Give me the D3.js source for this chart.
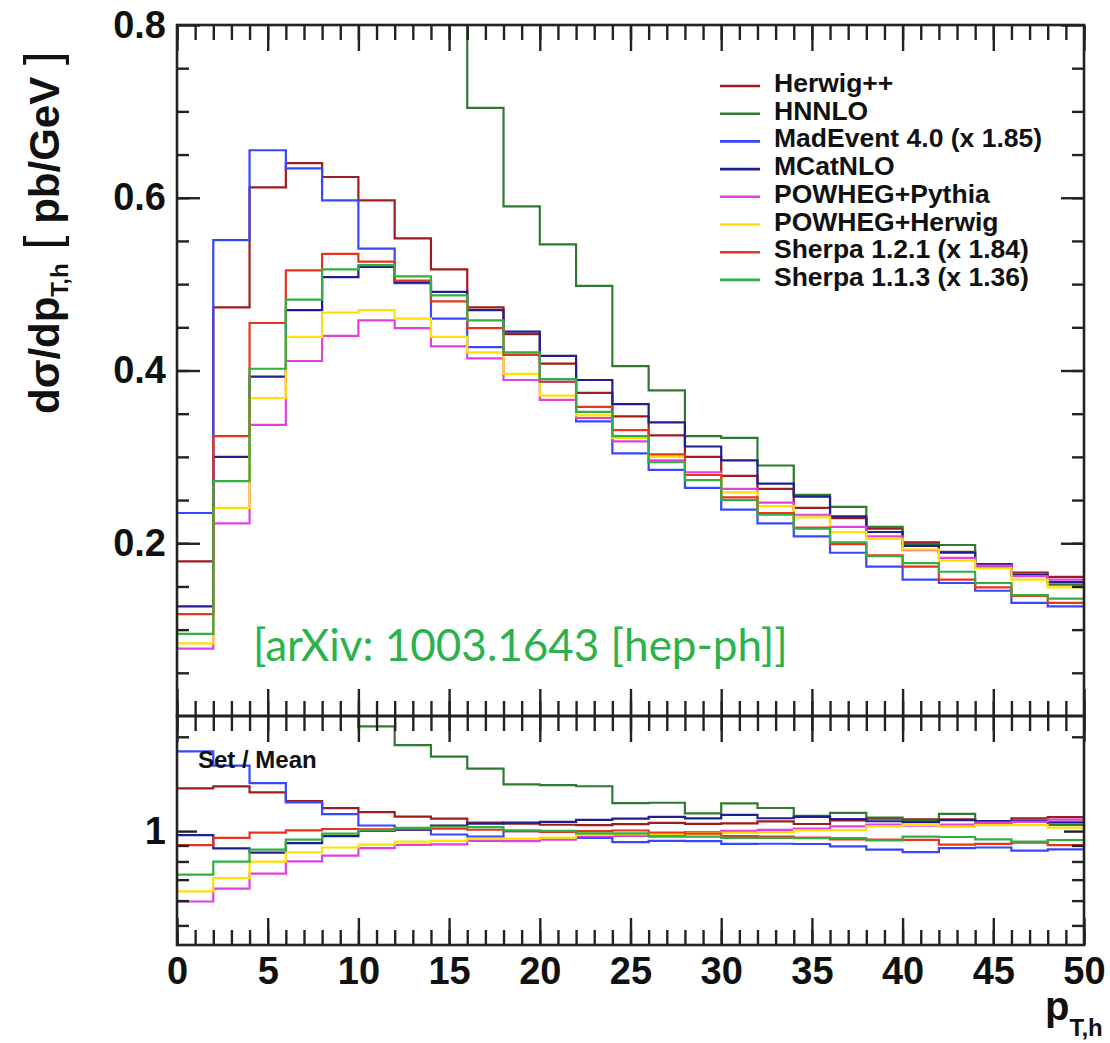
<!DOCTYPE html>
<html>
<head>
<meta charset="utf-8">
<script src="https://d3js.org/d3.v7.min.js"></script>
<style>
body { margin: 0; background: #fff; }
text { font-family: "Liberation Sans", Arial, Helvetica, sans-serif; }
</style>
</head>
<body>
<svg id="chart" width="1110" height="1043"></svg>
<script>
"use strict";

// pT,h bin edges [GeV]
var binEdges = [0, 2, 4, 6, 8, 10, 12, 14, 16, 18, 20, 22, 24, 26, 28, 30, 32, 34, 36, 38, 40, 42, 44, 46, 48, 50];

// dsigma/dpT per bin [pb/GeV]
var herwig = [0.179, 0.473, 0.612, 0.640, 0.624, 0.597, 0.553, 0.517, 0.473, 0.442, 0.408, 0.374, 0.347, 0.325, 0.300, 0.278, 0.263, 0.241, 0.229, 0.217, 0.201, 0.190, 0.176, 0.166, 0.161];
var hnnlo = [3.5, 2.6, 1.9, 1.55, 1.3, 1.121, 0.934, 0.816, 0.704, 0.590, 0.546, 0.498, 0.405, 0.377, 0.324, 0.322, 0.290, 0.256, 0.242, 0.219, 0.199, 0.198, 0.172, 0.163, 0.152];
var madevent = [0.235, 0.551, 0.655, 0.634, 0.597, 0.541, 0.501, 0.460, 0.427, 0.418, 0.387, 0.341, 0.304, 0.285, 0.264, 0.239, 0.223, 0.208, 0.189, 0.173, 0.158, 0.154, 0.145, 0.131, 0.127];
var mcatnlo = [0.127, 0.300, 0.393, 0.470, 0.508, 0.520, 0.502, 0.491, 0.470, 0.445, 0.417, 0.389, 0.361, 0.340, 0.312, 0.296, 0.269, 0.254, 0.231, 0.213, 0.197, 0.189, 0.176, 0.163, 0.155];
var powhegPythia = [0.078, 0.223, 0.337, 0.411, 0.440, 0.458, 0.449, 0.428, 0.414, 0.389, 0.366, 0.345, 0.318, 0.296, 0.282, 0.263, 0.247, 0.233, 0.219, 0.208, 0.192, 0.183, 0.174, 0.162, 0.158];
var powhegHerwig = [0.084, 0.241, 0.368, 0.439, 0.467, 0.470, 0.460, 0.439, 0.421, 0.396, 0.371, 0.348, 0.322, 0.300, 0.280, 0.259, 0.243, 0.230, 0.213, 0.205, 0.193, 0.180, 0.171, 0.158, 0.149];
var sherpa121 = [0.118, 0.324, 0.455, 0.516, 0.535, 0.526, 0.504, 0.480, 0.449, 0.418, 0.387, 0.358, 0.331, 0.303, 0.279, 0.253, 0.235, 0.218, 0.199, 0.186, 0.173, 0.158, 0.149, 0.139, 0.131];
var sherpa113 = [0.095, 0.272, 0.402, 0.482, 0.517, 0.522, 0.509, 0.487, 0.458, 0.421, 0.390, 0.352, 0.324, 0.294, 0.273, 0.250, 0.233, 0.217, 0.201, 0.185, 0.177, 0.167, 0.154, 0.140, 0.136];

var seriesNames = ["Herwig++", "HNNLO", "MadEvent 4.0 (x 1.85)", "MCatNLO", "POWHEG+Pythia", "POWHEG+Herwig", "Sherpa 1.2.1 (x 1.84)", "Sherpa 1.1.3 (x 1.36)"];
var seriesColors = ["#9b1d1d", "#2f7a2f", "#3548ff", "#1f1f8f", "#e040e0", "#ffe000", "#e8341c", "#34ad44"];

var xTickLabels = ["0", "5", "10", "15", "20", "25", "30", "35", "40", "45", "50"];
var yTickLabels = ["0.2", "0.4", "0.6", "0.8"];
var ratioTickLabels = ["1"];

var series = [
    { name: seriesNames[0], color: seriesColors[0], values: herwig, inMean: true },
    { name: seriesNames[1], color: seriesColors[1], values: hnnlo, inMean: false },
    { name: seriesNames[2], color: seriesColors[2], values: madevent, inMean: true },
    { name: seriesNames[3], color: seriesColors[3], values: mcatnlo, inMean: true },
    { name: seriesNames[4], color: seriesColors[4], values: powhegPythia, inMean: true },
    { name: seriesNames[5], color: seriesColors[5], values: powhegHerwig, inMean: true },
    { name: seriesNames[6], color: seriesColors[6], values: sherpa121, inMean: true },
    { name: seriesNames[7], color: seriesColors[7], values: sherpa113, inMean: true }
];

var svg = d3.select("#chart");

var left = 177, right = 1084;
var topY = 25, midY = 716, botY = 945;

var x = d3.scaleLinear().domain([0, 50]).range([left, right]);
var y = d3.scaleLinear().domain([0, 0.8]).range([midY, topY]);
var yr = d3.scaleLog().domain([0.433, 2.33]).range([botY, midY]);

// mean of the MC sets in each bin, used for the Set / Mean panel
var means = binEdges.slice(0, -1).map(function (e, i) {
    var used = series.filter(function (s) { return s.inMean; });
    return d3.mean(used, function (s) { return s.values[i]; });
});

function stepPoints(values) {
    var pts = values.map(function (v, i) { return [binEdges[i], v]; });
    pts.push([binEdges[binEdges.length - 1], values[values.length - 1]]);
    return pts;
}

var defs = svg.append("defs");
defs.append("clipPath").attr("id", "clipTop").append("rect")
    .attr("x", left).attr("y", topY).attr("width", right - left).attr("height", midY - topY);
defs.append("clipPath").attr("id", "clipBot").append("rect")
    .attr("x", left).attr("y", midY).attr("width", right - left).attr("height", botY - midY);

// histograms
var lineTop = d3.line().x(function (d) { return x(d[0]); }).y(function (d) { return y(d[1]); }).curve(d3.curveStepAfter);
var lineBot = d3.line().x(function (d) { return x(d[0]); }).y(function (d) { return yr(d[1]); }).curve(d3.curveStepAfter);

var gTop = svg.append("g").attr("clip-path", "url(#clipTop)");
var gBot = svg.append("g").attr("clip-path", "url(#clipBot)");
for (var i = 0; i < series.length; i++) {
    var s = series[i];
    gTop.append("path")
        .attr("d", lineTop(stepPoints(s.values)))
        .attr("fill", "none").attr("stroke", s.color).attr("stroke-width", 2.2);
    var ratios = s.values.map(function (v, j) { return v / means[j]; });
    gBot.append("path")
        .attr("d", lineBot(stepPoints(ratios)))
        .attr("fill", "none").attr("stroke", s.color).attr("stroke-width", 2.2);
}

// ticks: all pointing inwards
var xMinor = d3.range(0, 51, 1);
var xMajor = d3.range(0, 51, 5);
var yMinor = d3.range(1, 16).map(function (k) { return k * 0.05; });
var yMajor = [0.2, 0.4, 0.6, 0.8];
var rMinor = [0.5, 0.6, 0.7, 0.8, 0.9, 2];
var rMajor = [1];

function tickAxis(axis, values, size, tx, ty) {
    var g = svg.append("g").attr("class", "ticks")
        .attr("transform", "translate(" + tx + "," + ty + ")")
        .call(axis.tickValues(values).tickSize(size).tickFormat(""));
    g.select(".domain").remove();
    g.selectAll("line").attr("stroke", "#222").attr("stroke-width", 2.4);
}

[topY, midY, botY].forEach(function (yy, k) {
    if (k < 2) {
        tickAxis(d3.axisBottom(x), xMinor, 15, 0, yy);
        tickAxis(d3.axisBottom(x), xMajor, 26, 0, yy);
    }
    if (k > 0) {
        tickAxis(d3.axisTop(x), xMinor, 15, 0, yy);
        tickAxis(d3.axisTop(x), xMajor, 27, 0, yy);
    }
});
tickAxis(d3.axisRight(y), yMinor, 12, left, 0);
tickAxis(d3.axisRight(y), yMajor, 23, left, 0);
tickAxis(d3.axisLeft(y), yMinor, 12, right, 0);
tickAxis(d3.axisLeft(y), yMajor, 23, right, 0);
tickAxis(d3.axisRight(yr), rMinor, 12, left, 0);
tickAxis(d3.axisRight(yr), rMajor, 20, left, 0);
tickAxis(d3.axisLeft(yr), rMinor, 12, right, 0);
tickAxis(d3.axisLeft(yr), rMajor, 20, right, 0);

// frames
svg.append("rect").attr("x", left).attr("y", topY).attr("width", right - left).attr("height", midY - topY)
    .attr("fill", "none").attr("stroke", "#222").attr("stroke-width", 2.6);
svg.append("rect").attr("x", left).attr("y", midY).attr("width", right - left).attr("height", botY - midY)
    .attr("fill", "none").attr("stroke", "#222").attr("stroke-width", 2.6);

// tick labels
var gxl = svg.append("g").attr("transform", "translate(0," + botY + ")")
    .call(d3.axisBottom(x).tickValues(xMajor).tickSize(0).tickPadding(12)
        .tickFormat(function (d, i) { return xTickLabels[i]; }));
gxl.select(".domain").remove();
gxl.selectAll("text").attr("font-size", 38).attr("font-weight", "bold").attr("fill", "#111")
    .style("font-family", "'Liberation Sans', Arial, sans-serif");

var gyl = svg.append("g").attr("transform", "translate(" + (left - 11) + ",0)")
    .call(d3.axisLeft(y).tickValues(yMajor).tickSize(0).tickPadding(0)
        .tickFormat(function (d, i) { return yTickLabels[i]; }));
gyl.select(".domain").remove();
gyl.selectAll("text").attr("font-size", 38).attr("font-weight", "bold").attr("fill", "#111")
    .style("font-family", "'Liberation Sans', Arial, sans-serif");

var grl = svg.append("g").attr("transform", "translate(" + (left - 11) + ",0)")
    .call(d3.axisLeft(yr).tickValues(rMajor).tickSize(0).tickPadding(0)
        .tickFormat(function (d, i) { return ratioTickLabels[i]; }));
grl.select(".domain").remove();
grl.selectAll("text").attr("font-size", 38).attr("font-weight", "bold").attr("fill", "#111")
    .style("font-family", "'Liberation Sans', Arial, sans-serif");

// axis titles
var yTitle = svg.append("text")
    .attr("transform", "translate(59,414) rotate(-90)")
    .attr("font-size", 42).attr("font-weight", "bold").attr("fill", "#111");
yTitle.append("tspan").text("dσ/dp");
yTitle.append("tspan").attr("font-size", 24).attr("dy", 9).text("T,h");
yTitle.append("tspan").attr("dy", -9).attr("font-weight", "normal").attr("font-size", 50).text(" [");
yTitle.append("tspan").text(" pb/GeV ");
yTitle.append("tspan").attr("font-weight", "normal").attr("font-size", 50).text("]");

var xTitle = svg.append("text").attr("x", 1045).attr("y", 1020)
    .attr("font-size", 40).attr("font-weight", "bold").attr("fill", "#111");
xTitle.append("tspan").text("p");
xTitle.append("tspan").attr("font-size", 24).attr("dy", 16).text("T,h");

// legend
var legend = svg.append("g").attr("transform", "translate(720,86)");
for (var i = 0; i < series.length; i++) {
    var row = legend.append("g").attr("transform", "translate(0," + (i * 27.7) + ")");
    row.append("line").attr("x1", 0).attr("x2", 40).attr("y1", 0).attr("y2", 0)
        .attr("stroke", series[i].color).attr("stroke-width", 2.6);
    row.append("text").attr("x", 54).attr("y", 6)
        .attr("font-size", 26.5).attr("font-weight", "bold").attr("fill", "#111")
        .text(series[i].name);
}

svg.append("text").attr("x", 198).attr("y", 768)
    .attr("font-size", 24).attr("font-weight", "bold").attr("fill", "#111")
    .text("Set / Mean");

svg.append("text").attr("x", 253).attr("y", 661)
    .attr("font-size", 44).attr("fill", "#2bb24c")
    .style("font-family", "Lato, 'Open Sans', sans-serif")
    .text("[arXiv: 1003.1643 [hep-ph]]");
</script>
</body>
</html>
